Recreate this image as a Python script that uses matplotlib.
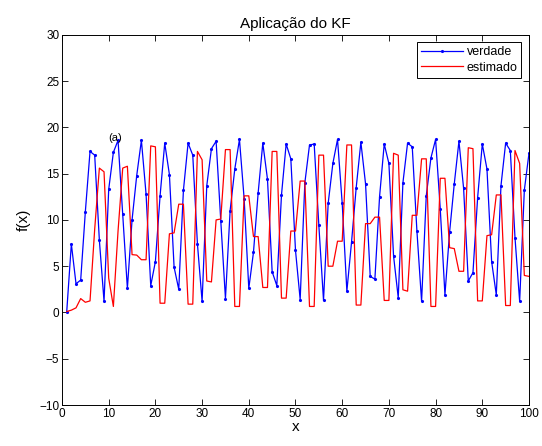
import numpy as np
import matplotlib
matplotlib.use("Agg")
import matplotlib.pyplot as plt

plt.rcParams['font.family'] = ['Liberation Sans', 'DejaVu Sans']

x = np.arange(1, 101)

verdade = [0.0, 7.4, 3.1, 3.5, 10.9, 17.4, 17.0, 7.8, 1.2, 13.3,
           17.3, 18.6, 10.6, 2.6, 10.0, 14.8, 18.6, 12.8, 2.9, 5.5,
           12.6, 18.3, 14.9, 4.9, 2.5, 13.2, 18.3, 17.0, 7.4, 1.2,
           13.7, 17.7, 18.5, 9.9, 1.5, 11.0, 15.5, 18.7, 12.3, 2.6,
           6.5, 12.9, 18.3, 14.4, 4.4, 2.9, 12.7, 18.2, 16.6, 6.7,
           1.4, 14.0, 18.1, 18.2, 9.4, 1.3, 11.8, 16.1, 18.7, 11.8,
           2.3, 7.6, 13.5, 18.4, 13.9, 3.9, 3.6, 12.5, 18.2, 16.1,
           6.1, 1.6, 14.0, 18.3, 17.9, 8.8, 1.2, 12.6, 16.7, 18.7,
           11.2, 1.9, 8.7, 13.9, 18.5, 13.4, 3.4, 4.3, 12.4, 18.2,
           15.5, 5.5, 1.9, 13.7, 18.3, 17.5, 8.1, 1.2, 13.2, 17.2]

estimado = [0.1, 0.25, 0.5, 1.5, 1.1, 1.25, 9.0, 15.6, 15.2, 3.7,
            0.65, 8.8, 15.6, 15.8, 6.25, 6.2, 5.7, 5.7, 18.0, 17.9,
            1.0, 1.0, 8.5, 8.6, 11.7, 11.7, 0.9, 0.9, 17.4, 16.5,
            3.4, 3.3, 10.0, 10.1, 17.6, 17.6, 0.65, 0.65, 12.6, 12.6,
            8.2, 8.2, 2.7, 2.7, 17.4, 17.4, 1.55, 1.55, 8.8, 8.8,
            14.2, 14.2, 0.65, 0.65, 17.0, 17.0, 5.0, 5.0, 7.7, 7.7,
            18.1, 18.1, 0.8, 0.8, 9.6, 9.6, 10.3, 10.3, 1.3, 1.3,
            17.2, 17.0, 2.45, 2.3, 10.5, 10.5, 16.6, 16.6, 0.65, 0.65,
            14.5, 14.5, 7.0, 6.9, 4.45, 4.45, 17.8, 17.7, 1.25, 1.25,
            8.3, 8.4, 12.7, 12.7, 0.75, 0.75, 17.5, 16.1, 4.0, 3.9]

xticks = list(range(0, 101, 10))
yticks = list(range(-10, 31, 5))

fig = plt.figure(figsize=(5.42, 4.46), dpi=100)
ax = fig.add_axes([0.1144, 0.0919, 0.8616, 0.830])

ax.plot(x, verdade, color='blue', marker='.', markersize=2.5, linewidth=0.9, label='verdade')
ax.plot(x, estimado, color='red', linewidth=0.9, label='estimado')

ax.set_xlim(0, 100)
ax.set_ylim(-10, 30)
ax.set_xticks(xticks)
ax.set_yticks(yticks)
ax.tick_params(direction='in', top=True, right=True, length=4, labelsize=8.5, width=0.6, pad=2)
for s in ax.spines.values():
    s.set_linewidth(0.7)

ax.set_title('Aplicação do KF', fontsize=11, pad=5)
ax.set_xlabel('x', fontsize=11, labelpad=0)
ax.set_ylabel('f(x)', fontsize=11, labelpad=6)
ax.text(10, 18.9, '(a)', fontsize=8, va='center')

leg = ax.legend(loc='upper right', fontsize=9, fancybox=False, framealpha=1,
                edgecolor='black', borderaxespad=0.6, handlelength=3.4,
                borderpad=0.3, labelspacing=0.3, handletextpad=0.3)
leg.get_frame().set_linewidth(0.7)

fig.savefig('out.png', dpi=100)
